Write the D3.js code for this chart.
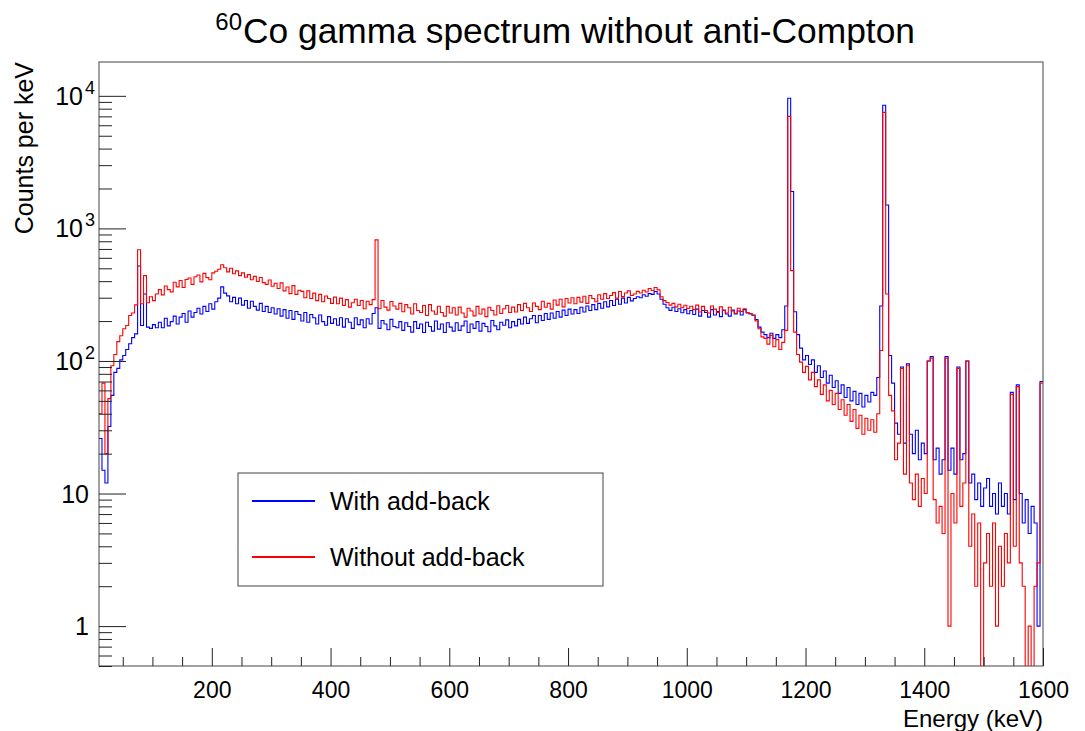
<!DOCTYPE html>
<html><head><meta charset="utf-8">
<script src="https://cdn.jsdelivr.net/npm/d3@7"></script>
<style>
body{margin:0;background:#fff}
svg{display:block}
text{font-family:"Liberation Sans",Arial,Helvetica,sans-serif;fill:#000}
</style>
</head><body>
<svg id="c" width="1085" height="731"></svg>
<script>
// ---- data: 5 keV bins starting at 10 keV ----
const firstBin = 10;
const binWidth = 5;
const energyMax = 1600;

const withAddBack = [
  26, 15, 12, 32, 55, 82, 88, 102, 110, 122, 135, 150, 160, 520, 185, 320, 180, 176, 188, 178,
  196, 178, 210, 184, 198, 218, 190, 214, 228, 196, 238, 214, 232, 250, 226, 258, 236, 270, 246, 280,
  298, 362, 325, 310, 280, 302, 270, 298, 264, 286, 250, 282, 258, 242, 272, 236, 258, 232, 252, 226,
  248, 218, 244, 210, 240, 206, 236, 224, 200, 232, 196, 224, 212, 190, 222, 198, 186, 216, 192, 208,
  186, 212, 180, 208, 196, 176, 212, 188, 204, 178, 208, 190, 228, 252, 176, 202, 190, 172, 206, 182,
  178, 198, 170, 194, 182, 165, 198, 176, 190, 164, 196, 182, 168, 200, 174, 190, 164, 194, 180, 168,
  194, 170, 184, 200, 164, 190, 176, 198, 168, 192, 182, 166, 202, 184, 172, 196, 186, 204, 178, 198,
  184, 206, 190, 214, 192, 208, 220, 194, 220, 202, 228, 206, 230, 210, 236, 214, 242, 220, 246, 226,
  244, 228, 254, 234, 260, 240, 266, 244, 272, 250, 280, 256, 286, 262, 292, 268, 298, 274, 302, 284,
  296, 305, 300, 316, 308, 322, 318, 334, 320, 292, 268, 252, 241, 254, 236, 248, 231, 244, 227, 240,
  224, 246, 218, 240, 232, 214, 244, 222, 236, 216, 242, 226, 218, 242, 226, 238, 222, 244, 230, 226,
  222, 205, 180, 165, 158, 150, 162, 148, 158, 150, 172, 260, 9600, 1900, 235, 158, 125, 102, 110, 94,
  102, 82, 92, 75, 84, 68, 78, 63, 71, 57, 66, 53, 63, 50, 59, 47, 57, 45, 55, 49,
  58, 55, 75, 260, 8500, 1500, 110, 68, 34, 28, 90, 24, 95, 28, 20, 30, 18, 24, 20, 100,
  108, 18, 22, 14, 18, 108, 15, 22, 14, 90, 18, 20, 100, 12, 14, 9, 12, 8, 11, 13,
  8, 10, 7, 12, 8, 10, 7, 58, 9, 66, 10, 6, 9, 5, 8, 6, 1, 70
];

const withoutAddBack = [
  40, 68, 20, 52, 92, 112, 140, 155, 175, 185, 220, 230, 265, 690, 270, 440, 275, 305, 285, 320,
  345, 315, 368, 345, 332, 392, 362, 405, 358, 412, 422, 378, 432, 445, 395, 458, 425, 410, 462, 475,
  492, 532, 505, 470, 500, 455, 478, 440, 462, 428, 448, 410, 435, 398, 426, 390, 378, 408, 366, 386,
  352, 388, 338, 361, 322, 370, 318, 342, 335, 300, 338, 296, 325, 285, 318, 280, 309, 296, 272, 303,
  270, 298, 262, 290, 255, 275, 292, 262, 286, 248, 282, 266, 290, 820, 248, 286, 255, 242, 281, 260,
  246, 272, 235, 266, 252, 226, 270, 240, 232, 262, 220, 266, 238, 225, 259, 232, 218, 258, 230, 252,
  222, 255, 230, 214, 250, 238, 219, 258, 226, 246, 216, 254, 240, 222, 261, 228, 248, 262, 232, 255,
  234, 266, 240, 272, 252, 236, 274, 258, 244, 282, 254, 272, 246, 288, 264, 292, 256, 296, 274, 300,
  270, 302, 278, 308, 272, 312, 296, 280, 316, 292, 322, 296, 312, 328, 298, 334, 306, 326, 338, 312,
  320, 335, 326, 342, 331, 352, 340, 358, 344, 305, 285, 276, 264, 272, 256, 268, 252, 263, 249, 259,
  244, 264, 234, 258, 240, 230, 260, 246, 232, 256, 240, 230, 254, 238, 228, 250, 236, 248, 232, 228,
  220, 200, 175, 152, 148, 134, 156, 128, 145, 122, 138, 170, 7000, 480, 165, 112, 98, 82, 91, 72,
  82, 64, 72, 56, 66, 50, 60, 47, 57, 43, 51, 39, 47, 35, 43, 31, 39, 28, 37, 30,
  36, 29, 40, 120, 7500, 320, 55, 42, 18, 24, 88, 14, 92, 12, 9, 14, 8, 13, 10, 100,
  105, 9, 6, 8, 5, 105, 1, 10, 6, 88, 8, 12, 100, 4, 7, 2, 6, 0, 3, 5,
  2, 6, 1, 4, 2, 5, 3, 56, 4, 64, 3, 2, 0, 1, 0, 2, 3, 68
];

const xTickValues = [200, 400, 600, 800, 1000, 1200, 1400, 1600];
const yTickExponents = [0, 1, 2, 3, 4];
const seriesNames = ["With add-back", "Without add-back"];
const seriesColors = ["#0000ff", "#ff0000"];
const titleSup = "60";
const titleMain = "Co gamma spectrum without anti-Compton";
const xTitle = "Energy (keV)";
const yTitle = "Counts per keV";

// ---- layout ----
const F = {l: 99, r: 1043, t: 62, b: 666};
const svg = d3.select("#c");
const x = d3.scaleLinear([10, energyMax], [F.l, F.r]);
const yMin = 0.5, yMax = 18000;
const y = d3.scaleLog([yMin, yMax], [F.b, F.t]);

svg.append("defs").append("clipPath").attr("id", "clip")
  .append("rect").attr("x", F.l).attr("y", F.t).attr("width", F.r - F.l).attr("height", F.b - F.t);

// histograms
function histPoints(vals) {
  const pts = vals.map((v, i) => [firstBin + i * binWidth, v]);
  pts.push([energyMax, vals[vals.length - 1]]);
  return pts;
}
const line = d3.line()
  .x(d => x(d[0]))
  .y(d => y(Math.max(d[1], yMin * 0.9)))
  .curve(d3.curveStepAfter);

const g = svg.append("g").attr("clip-path", "url(#clip)");
[withAddBack, withoutAddBack].forEach((vals, k) => {
  g.append("path").attr("d", line(histPoints(vals)))
    .attr("fill", "none").attr("stroke", seriesColors[k]).attr("stroke-width", 1.1)
    .attr("stroke-linejoin", "miter");
});

// frame
svg.append("rect").attr("x", F.l).attr("y", F.t).attr("width", F.r - F.l).attr("height", F.b - F.t)
  .attr("fill", "none").attr("stroke", "#444").attr("stroke-width", 1);

// x axis
const xMinor = d3.range(50, energyMax + 1, 50).filter(v => v % 200 !== 0 && v >= 10);
const xAx = svg.append("g").attr("transform", `translate(0,${F.b})`)
  .call(d3.axisBottom(x).tickValues(xTickValues).tickSize(-18).tickPadding(0).tickFormat(d3.format("d")));
xAx.select(".domain").remove();
xAx.selectAll(".tick line").attr("stroke", "#222");
xAx.selectAll(".tick text").attr("y", 32).attr("dy", 0).attr("font-size", 23)
  .style("font-family", '"Liberation Sans",Arial,sans-serif');
const xAxMinor = svg.append("g").attr("transform", `translate(0,${F.b})`)
  .call(d3.axisBottom(x).tickValues(xMinor).tickSize(-9).tickFormat(""));
xAxMinor.select(".domain").remove();
xAxMinor.selectAll(".tick line").attr("stroke", "#222");

// y axis
const yMajor = yTickExponents.map(e => Math.pow(10, e));
const yMinorVals = [];
[-1, 0, 1, 2, 3].forEach(e => { for (let m = 2; m <= 9; m++) { const v = m * Math.pow(10, e); if (v >= yMin && v <= yMax) yMinorVals.push(v); } });
const yAx = svg.append("g").attr("transform", `translate(${F.l},0)`)
  .call(d3.axisLeft(y).tickValues(yMajor).tickSize(-27).tickFormat(""));
yAx.select(".domain").remove();
yAx.selectAll(".tick line").attr("stroke", "#222");
const yAxMinor = svg.append("g").attr("transform", `translate(${F.l},0)`)
  .call(d3.axisLeft(y).tickValues(yMinorVals).tickSize(-13).tickFormat(""));
yAxMinor.select(".domain").remove();
yAxMinor.selectAll(".tick line").attr("stroke", "#222");

yTickExponents.forEach(e => {
  const ty = y(Math.pow(10, e)) + 9;
  if (e <= 1) {
    svg.append("text").attr("x", 89).attr("y", ty).attr("text-anchor", "end")
      .attr("font-size", 25).text(e === 0 ? "1" : "10");
  } else {
    svg.append("text").attr("x", 83).attr("y", ty).attr("text-anchor", "end")
      .attr("font-size", 25).text("10");
    svg.append("text").attr("x", 85).attr("y", ty - 11).attr("text-anchor", "start")
      .attr("font-size", 18).text(String(e));
  }
});

// titles
svg.append("text").attr("x", 242).attr("y", 30).attr("text-anchor", "end").attr("font-size", 24).text(titleSup);
svg.append("text").attr("x", 243).attr("y", 43).attr("font-size", 35)
  .attr("textLength", 672).attr("lengthAdjust", "spacingAndGlyphs").text(titleMain);

svg.append("text").attr("x", F.r).attr("y", 727).attr("text-anchor", "end").attr("font-size", 24).text(xTitle);
svg.append("text").attr("transform", `translate(33,${F.t}) rotate(-90)`).attr("text-anchor", "end")
  .attr("font-size", 25).text(yTitle);

// legend
const L = {x: 238, y: 473, w: 365, h: 113};
svg.append("rect").attr("x", L.x).attr("y", L.y).attr("width", L.w).attr("height", L.h)
  .attr("fill", "#fff").attr("stroke", "#444").attr("stroke-width", 1);
seriesNames.forEach((name, k) => {
  const cy = L.y + 28 + k * 56;
  svg.append("line").attr("x1", L.x + 14).attr("x2", L.x + 77).attr("y1", cy).attr("y2", cy)
    .attr("stroke", seriesColors[k]).attr("stroke-width", 2);
  svg.append("text").attr("x", L.x + 92).attr("y", cy + 9).attr("font-size", 25).text(name);
});
</script>
</body></html>
